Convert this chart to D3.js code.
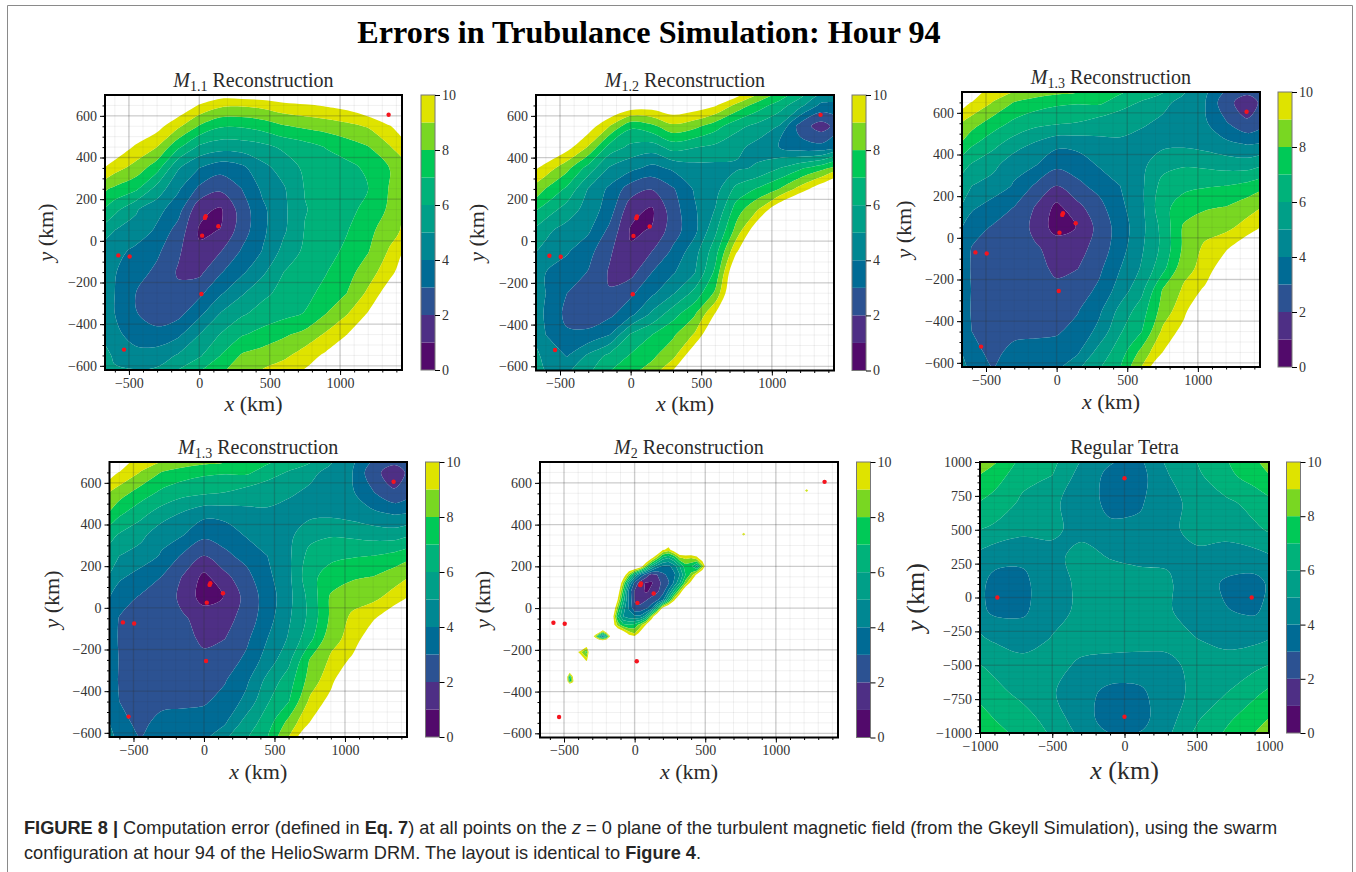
<!DOCTYPE html>
<html><head><meta charset="utf-8">
<script src="https://d3js.org/d3.v7.min.js"></script>
<style>html,body{margin:0;padding:0;background:#fff}svg{display:block}
text{font-family:"Liberation Serif",serif;fill:#2a2a2a}
.cap{font-family:"Liberation Sans",sans-serif;font-size:18.2px;fill:#262626}</style></head>
<body><svg id="c" width="1356" height="872"></svg>
<script>
const bandLevels=[0,1,2,3,4,5,6,7,8,9,10];
const bandColors=["#520a6b","#4e2f85","#2c5292","#006b95","#008792","#009f88","#00b27a","#00c957","#79d722","#dfe300"];
const cbTicks=[0,2,4,6,8,10];
const swarmX=[-575,-495,-535,15,20,40,45,135,1345];
const swarmY=[-70,-75,-522,-255,25,110,118,70,605];
const tetraPtX=[0,0,-880,880];
const tetraPtY=[880,-880,0,0];
const gridX=[-750,-600,-450,-300,-150,0,150,300,450,600,750,900,1050,1200,1350,1500];
const gridY=[750,650,550,450,350,250,150,50,-50,-150,-250,-350,-450,-550,-650];
const m11=[
[14,14,14,13.5,13,12.5,11.7,12,12,12,12.5,13,13,13.5,14,14],
[13,13,12.5,12,11,9.9,9.2,9.1,9.3,9.7,9.85,10.1,10.4,11,12,13],
[12.5,12,11.3,10.4,9.2,7.9,7.1,7.1,7.4,7.9,8.2,8.4,8.7,9.1,9.9,11],
[12.5,11,9.8,9,7.2,5.8,5.4,5.45,5.7,6.2,6.55,7.05,7.5,7.95,8.9,10],
[10.5,9.4,8.6,7.4,5.1,4,3.4,3.75,4.7,5.4,6.2,6.4,6.7,7.2,8,9.1],
[8.5,7.8,7.2,5.6,4.15,2.8,2.2,3,4.2,4.9,6.05,6.3,6.6,7,8.05,9.4],
[7.6,6.3,5.1,4.35,3.4,1.3,.85,2.45,3.8,4.8,5.95,6.35,6.7,7.3,8.15,9.6],
[5.9,5,4.7,3.8,2.6,.9,1.02,2.5,3.8,4.85,6.05,6.5,6.95,7.7,8.6,9.4],
[5,4.4,3.7,3.2,2.15,1.12,1.95,3.1,4.05,5.3,6.2,6.65,7.2,7.95,9.1,10.5],
[4.7,4.05,3.45,2.75,1.9,1.75,2.9,3.8,4.8,6,6.5,6.95,7.65,8.5,9.65,11],
[5,4,3,2.55,2.2,2.75,3.85,4.85,5.75,6.3,6.7,7.3,8,9.2,10.6,12],
[5.1,4,3.05,2.55,2.7,3.75,5.05,5.85,6.4,6.7,7.05,8,8.95,10.1,12,13],
[5.3,4.3,3.5,3.3,3.8,5,6.05,6.9,7.35,7.85,8.3,9.15,10,12,13,14],
[5.7,4.85,4.4,4.5,5.1,5.85,7,8.1,8.45,8.75,9.5,10.2,12,13,14,14],
[6.5,5.2,5.3,5.4,6.4,7.3,8,8.5,9.3,9.9,10.3,12,14,14,14,14]];
const m12=[
[14,14,14,14,14,13,13,13,13,13,12,10.3,8.8,7.3,6,6],
[13,13,13,12.5,11.5,10.8,10.6,11,10.7,10.1,8.7,7.5,6.5,5.3,3.7,3.3],
[13,12,11.2,10.6,9,7.2,7.7,8.75,8.3,7.4,6.3,5.7,4.95,2.55,1.5,2.7],
[12.5,11.3,10.4,8.9,6.6,5.75,5.5,6.4,6.05,5.75,5.3,4.6,4,3.45,3.35,4],
[10.7,9.6,8.3,6.6,4.9,4.3,3.7,4.2,4.6,4.7,4.8,5.15,5.95,6.8,7.65,8.6],
[9.2,7.95,6.8,4.95,3.8,2.5,2.05,2.9,4.1,4.6,6.3,7.1,8,9.4,10.8,12],
[7.6,6.6,5.5,4.6,3.5,1.35,.85,2.55,3.85,5.05,7.5,9,11,12.5,13,13.5],
[6.4,5.2,4.6,4.15,2.75,.9,1.05,2.55,3.7,5.8,8.4,11,12.5,13.5,14,14],
[5.3,4.75,4.1,3.35,2.15,1.1,2,3.2,4.55,6.6,9.9,12,13,14,14,14],
[4.7,4,3.55,2.95,1.9,1.65,3,3.9,4.9,7.25,11.5,13,14,14,14,14],
[4.9,4,3,2.5,2.05,2.8,3.8,4.9,6.3,8.2,12,14,14,14,14,14],
[5.6,3.8,2.75,2.45,2.75,3.7,5.2,6.6,7.85,10.1,13,14,14,14,14,14],
[5.6,4,3.15,3.25,4,6.15,7,7.85,9.1,11.5,13,14,14,14,14,14],
[5.8,4.7,3.95,5.2,6.3,7.1,7.8,8.7,11,13,14,14,14,14,14,14],
[6.5,5.1,4.9,6,7.2,8,8.6,10.6,13,14,14,14,14,14,14,14]];
const m13=[
[13,12,10.2,10,9.6,9.3,9,8,7.8,7.3,7,5.4,4.15,3.5,2.9,3.4],
[10.8,9.95,8.95,7.95,7.5,7.2,7.1,7.2,6.5,5.9,5.2,4.75,4.05,2.3,1.5,2.5],
[9.5,8.45,7.5,6.75,6.3,6.1,5.95,5.5,5.2,5.1,4.85,4.55,4.15,3.1,2.15,2.7],
[8.6,7.15,6.3,5.5,4.85,4.25,4.35,4.7,4.9,4.7,4.75,4.8,4.6,4.25,3.95,4.1],
[6.8,5.9,5.3,4.3,4.05,3.25,3.4,4.1,4.45,4.75,5.65,5.9,5.8,5.6,5.55,5.85],
[5.9,5,4.55,3.9,2.85,2,2.8,3.3,4,4.8,6.35,6.75,6.9,7,7.3,7.7],
[5.7,4.2,3.6,3,1.95,.75,1.75,2.7,3.75,4.75,6.7,7.45,7.85,8,8.55,9.15],
[4.7,3.4,2.9,2.6,1.75,.55,1.05,2.35,3.45,4.7,6.3,8.15,8.6,8.75,9.4,10.4],
[4.3,2.95,2.55,2.4,2.1,1.7,1.65,2.4,3.6,4.85,6.25,8.2,9.2,9.85,11,12],
[4.2,2.9,2.55,2.4,2.35,1.8,2,2.8,4,5.1,6.7,8.7,9.3,11,12,13],
[4.2,2.95,2.5,2.4,2.3,2.25,2.5,3.2,4.45,5.7,8.05,9.15,10.2,12,14,14],
[4.4,2.9,2.6,2.55,2.55,2.7,2.95,3.8,5.3,6.5,8.4,9.7,11.5,13,14,14],
[4.5,3,2.7,2.75,2.85,2.9,3.3,4.3,5.9,6.95,9.2,10.4,12,14,14,14],
[4.8,3.3,2.75,3.3,3.3,3.4,3.9,5.4,6.5,8.3,10,12,14,14,14,14],
[5.2,3.6,3.1,3.4,3.6,3.95,4.9,6.1,6.9,9.3,11.5,14,14,14,14,14]];
const tetraX=[-1100,-900,-700,-500,-300,-100,100,300,500,700,900,1100];
const tetraY=[1100,900,700,500,300,100,-100,-300,-500,-700,-900,-1100];
const tetra=[
[9.4,8.7,7.1,6.3,5.3,4.4,4.2,5.3,6.2,7.1,8.2,9.5],
[8.4,7.5,6.3,6,4.6,3.75,3.6,4.95,5.8,6.7,7.5,8.4],
[7.3,6.6,5.8,5.2,4.5,3.75,3.85,4.7,5.3,5.8,6.3,7.2],
[6.2,5.8,5.3,5.15,4.75,4.2,4.25,4.7,5.4,5.4,5.85,6.3],
[5.1,4.25,4.15,4.75,5.3,4.95,4.75,4.9,4.7,4.5,4.6,5.2],
[4.6,3.75,3.8,4.6,5.2,5.5,5.45,5.1,4.55,3.85,3.65,4.6],
[4.65,3.8,3.85,4.65,5.2,5.5,5.5,5.1,4.55,4.05,3.85,4.75],
[5.35,4.85,4.5,5.05,5.35,5.5,5.45,5.3,5,4.6,4.75,5.2],
[6.3,5.75,5.4,5.3,4.85,4.6,4.55,4.75,5.3,5.55,5.75,6.3],
[7.1,6.3,5.7,5.1,4.35,3.75,3.8,4.55,5.3,5.95,6.8,7.5],
[7.7,7,6.4,5.6,4.4,3.6,3.65,4.6,5.9,6.8,7.6,8.5],
[8.1,7.6,7,6.1,5.1,4.4,4.4,5.1,6.4,7.4,8.4,9.5]];
const m2X=[-200,-160,-120,-80,-40,0,40,80,120,160,200,240,280,320,360,400,440,480,520];
const m2Y=[320,280,240,200,160,120,80,40,0,-40,-80,-120,-160];
const m2=[
[12,12,12,12,12,12,12,12,12,12,11,11,12,12,12,12,12,12,12],
[12,12,12,12,12,12,12,12,12,12,10.2,9.6,10.8,12,12,12,12,12,12],
[12,12,12,12,12,12,12,12,10.3,8.5,6.5,6,7,8.8,9.2,9,9.6,11,12],
[12,12,12,12,12,12,11,8.5,6,4.4,3.8,3.7,4.5,6,7.5,7.2,5.5,8.5,12],
[12,12,12,11,8.6,6,3.9,2.6,1.6,2,2.8,3.2,3.8,5,7,8.3,10.3,12,12],
[12,12,12,8.8,5.2,2.7,1.5,.9,.9,1.5,2.3,2.9,4.2,6,8.5,10.5,12,12,12],
[12,12,11,7.5,3.6,1.9,1.4,.8,1.3,1.8,2.6,4.2,6.5,9,12,12,12,12,12],
[12,12,10,6.5,3.8,1.9,1.6,1.9,2.4,2.8,3.8,6.5,9.7,12,12,12,12,12,12],
[12,12,8.4,5.5,3.9,2.2,2.3,2.75,3.6,6.5,10.5,12,12,12,12,12,12,12,12],
[12,11,7,5,4.4,4.2,4.2,5.5,9,12,12,12,12,12,12,12,12,12,12],
[12,11,8.6,7.2,7,7.3,8.4,10,12,12,12,12,12,12,12,12,12,12,12],
[12,12,12,11,9.5,8.9,10.5,12,12,12,12,12,12,12,12,12,12,12,12],
[12,12,12,12,12,12,12,12,12,12,12,12,12,12,12,12,12,12,12]];
const isleAX=[-300,-275,-250,-225,-200,-175,-150];
const isleAY=[-95,-115,-135,-155,-175];
const isleA=[[12,12,12,12,12,12,12],[12,12,10.5,8.5,10.5,12,12],[11,8.5,5.5,4,6,9.9,12],[12,12,11,10.3,11,12,12],[12,12,12,12,12,12,12]];
const isleBX=[-420,-400,-380,-360,-340,-320];
const isleBY=[-170,-190,-210,-230,-250,-270];
const isleB=[[12,12,12,12,12,12],[12,12,12,10.5,9.6,12],[12,10,9.2,8.2,7.6,11],[12,12,10.4,9.3,8.6,11.5],[12,12,12,10.8,9.6,12],[12,12,12,12,12,12]];
const isleCX=[-500,-480,-460,-440,-420];
const isleCY=[-290,-310,-330,-350,-370];
const isleC=[[12,12,12,12,12],[12,12,10,11,12],[12,10.5,6,9.7,12],[12,11,7,9,12],[12,12,12,12,12]];
const dotAX=[748,772,796];const dotAY=[368,354,340];
const dotA=[[12,12,12],[12,8.2,12],[12,12,12]];
const dotBX=[1194,1218,1242];const dotBY=[577,563,549];
const dotB=[[12,12,12],[12,8.2,12],[12,12,12]];

const svg=d3.select("#c");
svg.append("path").attr("d","M7.5,872V5.5H1352.5V872").attr("fill","none").attr("stroke","#8a8a8a").attr("stroke-width",1);

svg.append("text").attr("x",649).attr("y",43).attr("text-anchor","middle")
 .style("font-size","32.2px").style("font-weight","700").style("fill","#000")
 .text("Errors in Trubulance Simulation: Hour 94");

function contourPaths(g,xs,ys,rows,x,y,curve){
  const n=xs.length,m=ys.length,dx=xs[1]-xs[0],dy=ys[1]-ys[0];
  const sets=d3.contours().size([n,m]).thresholds(bandLevels)(rows.flat());
  const line=d3.line().curve(curve);
  const ringsOf=c=>c.coordinates.map(poly=>poly.map(ring=>
    line(ring.slice(0,-1).map(p=>[x(xs[0]+(p[0]-.5)*dx),y(ys[0]+(p[1]-.5)*dy)]))).join("")).join("");
  bandColors.forEach((col,i)=>{
    const d=ringsOf(sets[i])+ringsOf(sets[i+1]);
    if(d) g.append("path").attr("d",d).attr("fill",col).attr("fill-rule","evenodd");
  });
}
const smooth=d3.curveCatmullRomClosed.alpha(.5), sharp=d3.curveLinearClosed;
const xFull=[-670,1440], yFull=[-620,700];
const xT=[-500,0,500,1000], yT=[-600,-400,-200,0,200,400,600];
const xM=d3.range(-600,1401,100), yM=d3.range(-600,651,50);
const panels=[
 {t:["M","1.1"," Reconstruction"],l:105,r:402,tp:95,b:370,cb:421,ty:87,lx:53,xl:411,fields:[[gridX,gridY,m11,smooth]]},
 {t:["M","1.2"," Reconstruction"],l:536,r:834,tp:95,b:370.5,cb:852,ty:87,lx:484,xl:411,fields:[[gridX,gridY,m12,smooth]]},
 {t:["M","1.3"," Reconstruction"],l:962,r:1260,tp:92,b:367,cb:1278,ty:84,lx:911,xl:409,fields:[[gridX,gridY,m13,smooth]]},
 {t:["M","1.3"," Reconstruction"],l:109.5,r:407,tp:462,b:737,cb:425.5,ty:454,lx:59,xl:779,fields:[[gridX,gridY,m13,smooth]]},
 {t:["M","2"," Reconstruction"],l:540,r:838,tp:462,b:737.5,cb:856.5,ty:454,lx:490,xl:779,
  fields:[[m2X,m2Y,m2,sharp],[isleAX,isleAY,isleA,sharp],[isleBX,isleBY,isleB,sharp],[isleCX,isleCY,isleC,sharp],[dotAX,dotAY,dotA,sharp],[dotBX,dotBY,dotB,sharp]]},
 {t:[null,null,"Regular Tetra"],l:980,r:1269,tp:462,b:733,cb:1286.5,ty:454,lx:924,xl:779,big:true,
  xd:[-1000,1000],yd:[-1000,1000],xT:[-1000,-500,0,500,1000],yT:d3.range(-1000,1001,250),
  xM:d3.range(-1000,1001,100),yM:d3.range(-1000,1001,50),px:tetraPtX,py:tetraPtY,fields:[[tetraX,tetraY,tetra,smooth]]}
];
const fmt=v=>String(v).replace("-","\u2212");
panels.forEach((p,k)=>{
  const x=d3.scaleLinear().domain(p.xd||xFull).range([p.l,p.r]);
  const y=d3.scaleLinear().domain(p.yd||yFull).range([p.b,p.tp]);
  const cid="clip"+k;
  svg.append("clipPath").attr("id",cid).append("rect").attr("x",p.l).attr("y",p.tp).attr("width",p.r-p.l).attr("height",p.b-p.tp);
  const g=svg.append("g").attr("clip-path",`url(#${cid})`);
  p.fields.forEach(f=>contourPaths(g,f[0],f[1],f[2],x,y,f[3]));
  const xt=p.xT||xT,yt=p.yT||yT,xm=p.xM||xM,ym=p.yM||yM;
  const grid=(vx,vy,col,w)=>{
    g.selectAll(null).data(vx).join("line").attr("x1",d=>x(d)).attr("x2",d=>x(d)).attr("y1",p.tp).attr("y2",p.b).attr("stroke",col).attr("stroke-width",w);
    g.selectAll(null).data(vy).join("line").attr("y1",d=>y(d)).attr("y2",d=>y(d)).attr("x1",p.l).attr("x2",p.r).attr("stroke",col).attr("stroke-width",w);
  };
  grid(xm,ym,"rgba(50,50,50,.07)",1);
  grid(xt,yt,"rgba(50,50,50,.2)",1.4);
  g.selectAll(null).data(p.px||swarmX).join("circle").attr("cx",d=>x(d)).attr("cy",(d,i)=>y((p.py||swarmY)[i])).attr("r",2.2).attr("fill","#f5141e");
  const ax=svg.append("g").attr("transform",`translate(0,${p.b})`).call(d3.axisBottom(x).tickValues(xt).tickFormat(fmt).tickSize(5).tickPadding(3));
  const ay=svg.append("g").attr("transform",`translate(${p.l},0)`).call(d3.axisLeft(y).tickValues(yt).tickFormat(fmt).tickSize(5).tickPadding(3));
  [ax,ay].forEach(a=>{a.select(".domain").remove();a.selectAll("text").style("font-size","14px").style("fill","#333");a.selectAll("line").attr("stroke","#000")});
  svg.append("g").attr("transform",`translate(0,${p.b})`).call(d3.axisBottom(x).tickValues(xm).tickFormat("").tickSize(2.5)).call(a=>{a.select(".domain").remove();a.selectAll("line").attr("stroke","#000")});
  svg.append("g").attr("transform",`translate(${p.l},0)`).call(d3.axisLeft(y).tickValues(ym).tickFormat("").tickSize(2.5)).call(a=>{a.select(".domain").remove();a.selectAll("line").attr("stroke","#000")});
  svg.append("rect").attr("x",p.l).attr("y",p.tp).attr("width",p.r-p.l).attr("height",p.b-p.tp).attr("fill","none").attr("stroke","#000").attr("stroke-width",2);
  const cx=(p.l+p.r)/2;
  const tt=svg.append("text").attr("x",cx).attr("y",p.ty).attr("text-anchor","middle").style("font-size","20px");
  if(p.t[0]){tt.append("tspan").style("font-style","italic").text(p.t[0]);
    tt.append("tspan").attr("dy",4).style("font-size","14px").text(p.t[1]);
    tt.append("tspan").attr("dy",-4).text(p.t[2]);}
  else tt.text(p.t[2]);
  const fs=p.big?"26px":"22px";
  const xl=svg.append("text").attr("x",cx).attr("y",p.xl).attr("text-anchor","middle").style("font-size",fs);
  xl.append("tspan").style("font-style","italic").text("x");xl.append("tspan").text(" (km)");
  const yl=svg.append("text").attr("transform",`translate(${p.lx},${(p.tp+p.b)/2}) rotate(-90)`).attr("text-anchor","middle").style("font-size",fs);
  yl.append("tspan").style("font-style","italic").text("y");yl.append("tspan").text(" (km)");
  const cy=d3.scaleLinear().domain([0,10]).range([p.b,p.tp]);
  svg.selectAll(null).data(bandColors).join("rect").attr("x",p.cb).attr("width",14).attr("y",(d,i)=>cy(i+1)).attr("height",(d,i)=>cy(i)-cy(i+1)).attr("fill",d=>d);
  svg.append("rect").attr("x",p.cb).attr("y",p.tp).attr("width",14).attr("height",p.b-p.tp).attr("fill","none").attr("stroke","#777");
  const cb=svg.append("g").attr("transform",`translate(${p.cb+14},0)`).call(d3.axisRight(cy).tickValues(cbTicks).tickSize(5).tickPadding(2));
  cb.select(".domain").remove();cb.selectAll("text").style("font-size","14px").style("fill","#333");cb.selectAll("line").attr("stroke","#000");
});
const c1=svg.append("text").attr("class","cap").attr("x",24).attr("y",834);
const seg=(t,s,w)=>{const e=t.append("tspan").text(s);if(s&&w)e.style(w,w=="font-weight"?"700":"italic");return e};
seg(c1,"FIGURE 8 | ","font-weight");seg(c1,"Computation error (defined in ");seg(c1,"Eq. 7","font-weight");seg(c1,") at all points on the ");seg(c1,"z","font-style");seg(c1," = 0 plane of the turbulent magnetic field (from the Gkeyll Simulation), using the swarm");
const c2=svg.append("text").attr("class","cap").attr("x",24).attr("y",859);
seg(c2,"configuration at hour 94 of the HelioSwarm DRM. The layout is identical to ");seg(c2,"Figure 4","font-weight");seg(c2,".");
</script></body></html>
